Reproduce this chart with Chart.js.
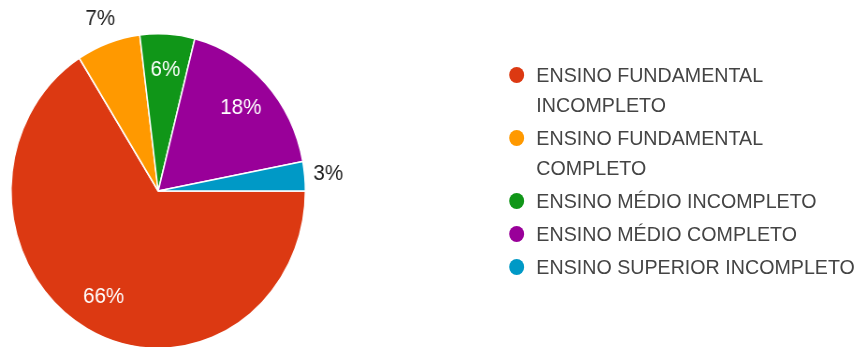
<!DOCTYPE html>
<html>
<head>
<meta charset="utf-8">
<script src="https://cdn.jsdelivr.net/npm/chart.js@4.4.0/dist/chart.umd.min.js"></script>
<style>
  html, body { margin: 0; padding: 0; background: #fff; overflow: hidden; }
  /* the source image is squeezed horizontally, so draw wider and squeeze back */
  #stage {
    position: absolute; left: 0; top: 0;
    width: 918px; height: 347px;
    transform: scaleX(0.936); transform-origin: 0 0;
    overflow: hidden;
  }
  #pie { position: absolute; left: -51px; top: -29px; }
  #legend {
    position: absolute; left: 544px; top: 60px;
    font-family: Arial, "Liberation Sans", sans-serif;
    font-size: 21px; color: #444;
  }
  .item { display: flex; align-items: flex-start; margin-bottom: 3px; }
  .dot { width: 16px; height: 16px; border-radius: 50%; margin-top: 7px; margin-right: 13px; flex: none; }
  .txt { line-height: 30px; max-width: 350px; }
</style>
</head>
<body>
<div id="stage">
  <canvas id="pie" width="440" height="440"></canvas>
  <div id="legend"></div>
</div>
<script>
const labels = [
  'ENSINO FUNDAMENTAL INCOMPLETO',
  'ENSINO FUNDAMENTAL COMPLETO',
  'ENSINO MÉDIO INCOMPLETO',
  'ENSINO MÉDIO COMPLETO',
  'ENSINO SUPERIOR INCOMPLETO'
];
const values = [66, 7, 6, 18, 3];
const colors = ['#dc3912', '#ff9900', '#109618', '#990099', '#0099c6'];
const outsideLabels = [1, 4]; // slices whose % sits outside the pie

// legend
const legend = document.getElementById('legend');
labels.forEach((lab, i) => {
  const item = document.createElement('div');
  item.className = 'item';
  item.innerHTML = `<span class="dot" style="background:${colors[i]}"></span><span class="txt">${lab}</span>`;
  legend.appendChild(item);
});

const pctLabels = {
  id: 'pctLabels',
  afterDatasetsDraw(chart) {
    const ctx = chart.ctx;
    const meta = chart.getDatasetMeta(0);
    const total = values.reduce((a, b) => a + b, 0);
    ctx.save();
    ctx.font = '22px Arial, "Liberation Sans", sans-serif';
    ctx.textAlign = 'center';
    ctx.textBaseline = 'middle';
    meta.data.forEach((arc, i) => {
      const p = arc.getProps(['x', 'y', 'startAngle', 'endAngle', 'outerRadius'], true);
      const mid = (p.startAngle + p.endAngle) / 2;
      const out = outsideLabels.includes(i);
      const r = p.outerRadius * (out ? 1.16 : 0.77);
      ctx.fillStyle = out ? '#222' : '#fff';
      const pct = Math.round(values[i] / total * 100) + '%';
      ctx.fillText(pct, p.x + Math.cos(mid) * r, p.y + Math.sin(mid) * r);
    });
    ctx.restore();
  }
};

new Chart(document.getElementById('pie'), {
  type: 'pie',
  data: {
    labels: labels,
    datasets: [{
      data: values,
      backgroundColor: colors,
      borderColor: '#fff',
      borderWidth: 1.5,
      hoverBorderWidth: 1.5,
      hoverOffset: 0
    }]
  },
  options: {
    responsive: false,
    animation: false,
    rotation: 90,
    layout: { padding: 62 },
    plugins: {
      legend: { display: false },
      tooltip: { enabled: false }
    }
  },
  plugins: [pctLabels]
});
</script>
</body>
</html>
